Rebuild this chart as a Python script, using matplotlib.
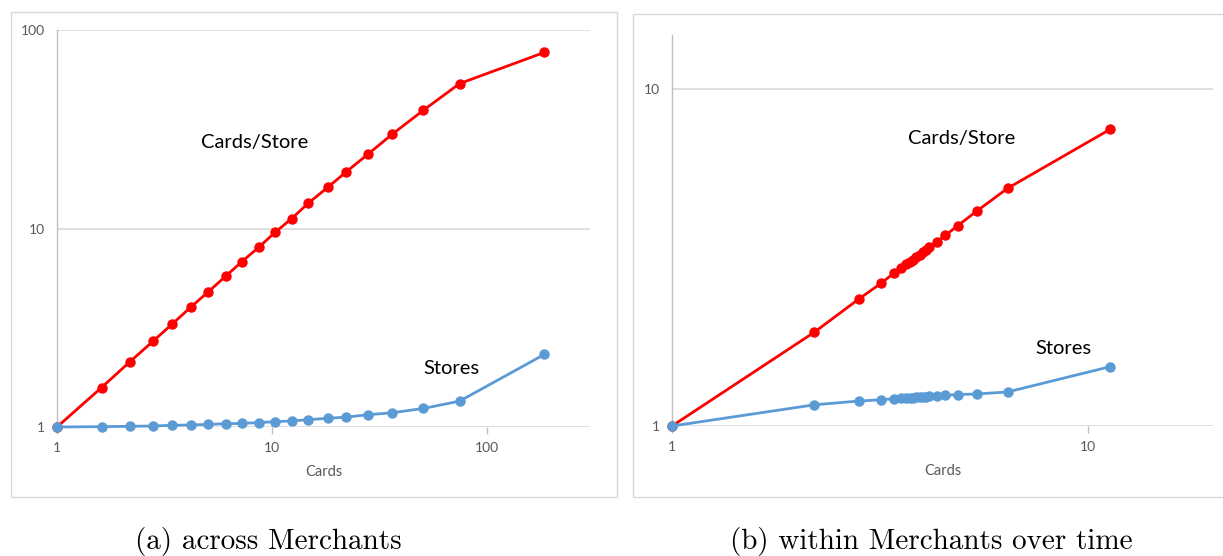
import matplotlib.pyplot as plt
from matplotlib.patches import Rectangle

# (a) across merchants
cards_a = [1, 1.61, 2.18, 2.79, 3.43, 4.2, 5.05, 6.08, 7.22, 8.67, 10.3, 12.3,
           14.7, 18.1, 22.1, 27.9, 36.2, 50.4, 74.3, 184]
per_store_a = [1, 1.58, 2.13, 2.7, 3.3, 4.03, 4.8, 5.75, 6.8, 8.05, 9.55, 11.2,
               13.4, 16.1, 19.3, 23.7, 29.9, 39.4, 53.7, 77.1]
stores_a = [1, 1.004, 1.008, 1.012, 1.02, 1.024, 1.031, 1.039, 1.043, 1.052, 1.064,
            1.072, 1.089, 1.106, 1.122, 1.153, 1.18, 1.24, 1.35, 2.32]

# (b) within merchants over time
cards_b = [1, 2.2, 2.81, 3.19, 3.41, 3.56, 3.66, 3.73, 3.80, 3.87, 3.94, 4.02,
           4.09, 4.16, 4.33, 4.54, 4.87, 5.41, 6.41, 11.3]
per_store_b = [1, 1.9, 2.38, 2.66, 2.84, 2.95, 3.02, 3.07, 3.12, 3.17, 3.22, 3.28,
               3.33, 3.39, 3.53, 3.68, 3.94, 4.35, 5.08, 7.6]
stores_b = [1, 1.156, 1.186, 1.197, 1.205, 1.208, 1.21, 1.212, 1.214, 1.216, 1.218,
            1.22, 1.222, 1.224, 1.227, 1.233, 1.24, 1.245, 1.262, 1.50]

RED = '#ff0000'
BLUE = '#5b9bd5'
GRID = '#d9d9d9'
TXT = '#595959'
SANS = ['Lato', 'DejaVu Sans']
SERIF = ['cmr10', 'DejaVu Serif']

fig = plt.figure(figsize=(12.23, 5.56), dpi=100)

# light frames around each chart
fig.patches.append(Rectangle((11/1223, 1-497/556), 606/1223, 485/556, transform=fig.transFigure,
                             fill=False, edgecolor=GRID, lw=1))
fig.patches.append(Rectangle((633/1223, 1-497/556), 620/1223, 483/556, transform=fig.transFigure,
                             fill=False, edgecolor=GRID, lw=1))

def draw(ax, cards, per_store, stores, xlim, ylim, yticks, xticks):
    ax.set_xscale('log')
    ax.set_yscale('log')
    ax.set_xlim(*xlim)
    ax.set_ylim(*ylim)
    for y in yticks:
        ax.axhline(y, color=GRID, lw=1.2, zorder=0)
    ax.plot(cards, per_store, color=RED, lw=2, marker='o', ms=6.5, zorder=3, clip_on=False)
    ax.plot(cards, stores, color=BLUE, lw=2, marker='o', ms=6.5, zorder=3, clip_on=False)
    for s in ['top', 'right', 'bottom']:
        ax.spines[s].set_visible(False)
    ax.spines['left'].set_color('#bfbfbf')
    ax.spines['left'].set_linewidth(1)
    ax.set_yticks(yticks)
    ax.set_yticklabels([str(t) for t in yticks])
    ax.set_xticks(xticks)
    ax.set_xticklabels([str(t) for t in xticks])
    ax.minorticks_off()
    ax.tick_params(axis='y', length=0, pad=9, labelsize=10, labelcolor=TXT)
    ax.tick_params(axis='x', length=5, width=1, color='#bfbfbf', pad=6, labelsize=10, labelcolor=TXT)
    for lab in ax.get_xticklabels() + ax.get_yticklabels():
        lab.set_family(SANS)
    ax.set_xlabel('Cards', color=TXT, fontsize=10.5, family=SANS, labelpad=8)

ax1 = fig.add_axes([57/1223, 1-427/556, 533/1223, 397/556])
draw(ax1, cards_a, per_store_a, stores_a, (1, 300), (1, 100), [1, 10, 100], [1, 10, 100])
ax1.text(8.3, 27, 'Cards/Store', fontsize=14.5, family=SANS, ha='center', va='center')
ax1.text(68, 1.96, 'Stores', fontsize=14.5, family=SANS, ha='center', va='center')

ax2 = fig.add_axes([672/1223, 1-426/556, 541/1223, 391/556])
draw(ax2, cards_b, per_store_b, stores_b, (1, 20), (1, 14.5), [1, 10], [1, 10])
ax2.text(4.96, 7.16, 'Cards/Store', fontsize=14.5, family=SANS, ha='center', va='center')
ax2.text(8.75, 1.70, 'Stores', fontsize=14.5, family=SANS, ha='center', va='center')

fig.text(268/1223, 1-542/556, '(a) across Merchants', fontsize=21, family=SERIF,
         ha='center', va='center')
fig.text(931/1223, 1-542/556, '(b) within Merchants over time', fontsize=21,
         family=SERIF, ha='center', va='center')

fig.savefig('out.png', dpi=100)
